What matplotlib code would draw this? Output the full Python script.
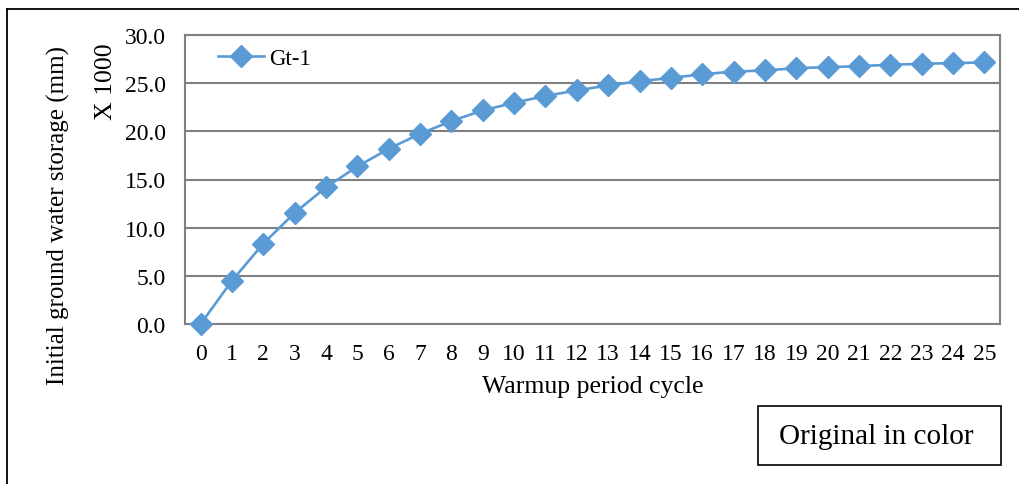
import matplotlib
matplotlib.use("Agg")
import matplotlib.pyplot as plt
from matplotlib.lines import Line2D
from matplotlib.patches import Rectangle

# Warmup cycles and initial ground water storage (mm, x 1000)
cycles = list(range(26))
storage = [0.0, 4.50, 8.35, 11.54, 14.20, 16.35, 18.19, 19.75, 21.07, 22.17,
           22.97, 23.67, 24.25, 24.77, 25.20, 25.55, 25.92, 26.20, 26.32, 26.56,
           26.66, 26.77, 26.91, 27.01, 27.08, 27.15]
series_name = "Gt-1"
y_ticks = [0.0, 5.0, 10.0, 15.0, 20.0, 25.0, 30.0]

plt.rcParams["font.family"] = ["Liberation Serif", "DejaVu Serif"]

W, H = 1020, 485
fig = plt.figure(figsize=(W / 100, H / 100), dpi=100)

def fx(px):
    return px / W

def fy(py):
    return 1 - py / H

ax = fig.add_axes([fx(185), fy(325), fx(1000) - fx(185), fy(36) - fy(325)])

blue = "#5B9BD5"
grey = "#808080"

ax.plot(cycles, storage, color=blue, lw=1.9, marker="D", ms=11.5,
        markeredgecolor=blue, markerfacecolor=blue, label=series_name,
        clip_on=False, zorder=3)

ax.set_xlim(-0.5, 25.5)
ax.set_ylim(0, 30)
ax.set_xticks(cycles)
ax.set_xticklabels([str(c) for c in cycles])
ax.set_yticks(y_ticks)
ax.set_yticklabels([f"{v:.1f}" for v in y_ticks])
ax.tick_params(axis="both", length=0, labelsize=17, colors="black")
ax.tick_params(axis="y", pad=14)
ax.tick_params(axis="x", pad=14)

ax.grid(axis="y", color=grey, lw=1.5)
ax.set_axisbelow(True)
for side in ["left", "right", "top", "bottom"]:
    ax.spines[side].set_color(grey)
    ax.spines[side].set_linewidth(1.5)

leg = ax.legend(loc="upper left", bbox_to_anchor=(0.015, 1.025), frameon=False,
                fontsize=16.5, handlelength=2.0, handletextpad=0.25,
                borderaxespad=0.5)

fig.text(fx(593), fy(387), "Warmup period cycle", ha="center", va="center",
         fontsize=18.5)
fig.text(fx(58), fy(216), "Initial ground water storage (mm)", rotation=90,
         ha="center", va="center", fontsize=18)
fig.text(fx(106), fy(82), "X 1000", rotation=90, ha="center", va="center",
         fontsize=18.5)

# Caption box
fig.patches.append(Rectangle((fx(758), fy(466)), fx(1001) - fx(758),
                             fy(407) - fy(466), transform=fig.transFigure,
                             fill=False, edgecolor="black", lw=1.2))
fig.text(fx(876), fy(437), "Original in color", ha="center", va="center",
         fontsize=21)

# Outer frame (left and top edges)
fig.add_artist(Line2D([fx(7.5), fx(7.5)], [0, fy(9.5)], color="black", lw=1.3,
                      transform=fig.transFigure))
fig.add_artist(Line2D([fx(7.5), 1], [fy(9.5), fy(9.5)], color="black", lw=1.3,
                      transform=fig.transFigure))

fig.savefig("out.png", dpi=100)
